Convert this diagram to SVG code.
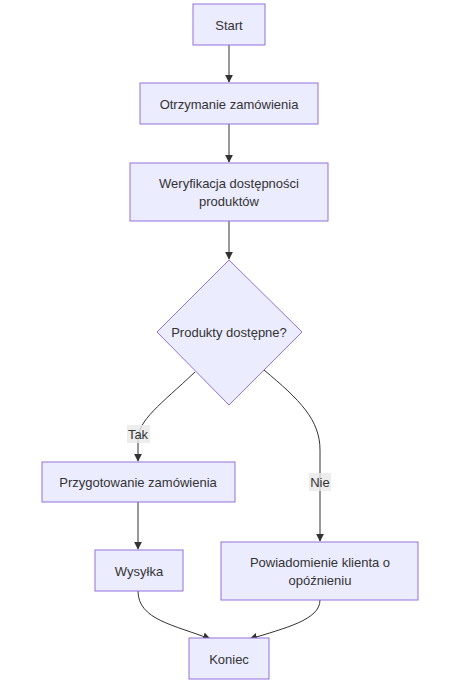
<svg xmlns="http://www.w3.org/2000/svg" width="453" height="685" viewBox="0 0 453 685">
<style>
.n{fill:#ECECFF;stroke:#9370DB;stroke-width:1}
.t{font-family:"Liberation Sans",Arial,sans-serif;font-size:13px;fill:#333;text-anchor:middle;dominant-baseline:central}
.e{fill:none;stroke:#333;stroke-width:1}
.lb{fill:#e8e8e8;opacity:0.8}
</style>
<defs><marker id="a" viewBox="0 0 10 10" refX="9" refY="5" markerWidth="8" markerHeight="8" orient="auto"><path d="M0,0L10,5L0,10z" fill="#333"/></marker></defs>
<rect width="453" height="685" fill="#fff"/>
<g id="edges">
<path class="e" d="M229,45V82" marker-end="url(#a)"/>
<path class="e" d="M229,124V162" marker-end="url(#a)"/>
<path class="e" d="M229,221V259" marker-end="url(#a)"/>
<path class="e" d="M195,372C160,405 138,420 138,440V461" marker-end="url(#a)"/>
<path class="e" d="M264,370C300,400 320,420 320,450V541" marker-end="url(#a)"/>
<path class="e" d="M138,502V549" marker-end="url(#a)"/>
<path class="e" d="M138,591C138,620 175,625 210,639" marker-end="url(#a)"/>
<path class="e" d="M320,600C320,620 285,628 250,639" marker-end="url(#a)"/>
<rect class="lb" x="127" y="425" width="23" height="18"/><text class="t" x="138" y="434">Tak</text>
<rect class="lb" x="309" y="473" width="22" height="18"/><text class="t" x="320" y="482">Nie</text>
</g>
<g id="start"><rect class="n" x="193" y="4" width="72" height="41"/><text class="t" x="229" y="25">Start</text></g>
<g id="otrz"><rect class="n" x="140" y="83" width="178" height="41"/><text class="t" x="229" y="104">Otrzymanie zamówienia</text></g>
<g id="wer"><rect class="n" x="130" y="163" width="198" height="58"/><text class="t" x="229" y="183">Weryfikacja dostępności</text><text class="t" x="229" y="201">produktów</text></g>
<g id="dec"><polygon class="n" points="229,260 302,332 229,405 157,332"/><text class="t" x="229" y="332">Produkty dostępne?</text></g>
<g id="przyg"><rect class="n" x="42" y="462" width="193" height="40"/><text class="t" x="138" y="482">Przygotowanie zamówienia</text></g>
<g id="wys"><rect class="n" x="95" y="550" width="88" height="41"/><text class="t" x="139" y="571">Wysyłka</text></g>
<g id="pow"><rect class="n" x="221" y="542" width="197" height="58"/><text class="t" x="320" y="562">Powiadomienie klienta o</text><text class="t" x="320" y="580">opóźnieniu</text></g>
<g id="kon"><rect class="n" x="189" y="638" width="80" height="41"/><text class="t" x="229" y="659">Koniec</text></g>
</svg>
